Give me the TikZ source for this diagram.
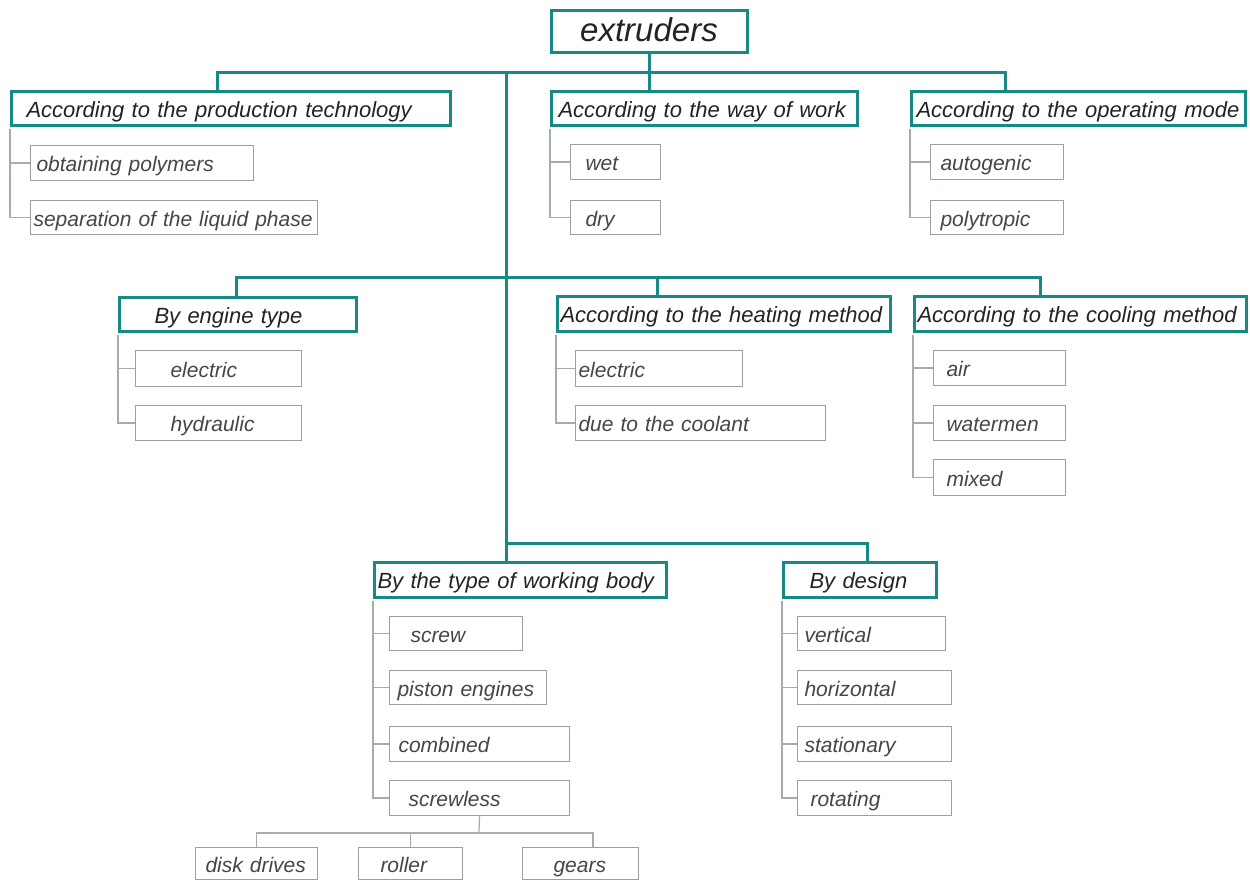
\documentclass[tikz,border=0pt]{standalone}
\usepackage{fontspec}
\setmainfont{Liberation Sans}
\definecolor{teal1}{RGB}{24,138,132}
\definecolor{leafgray}{RGB}{150,160,165}
\definecolor{linegray}{RGB}{165,172,176}
\definecolor{txthead}{RGB}{35,35,35}
\definecolor{txtleaf}{RGB}{70,70,70}
\newcommand{\vfix}{\rule[-5.5pt]{0pt}{28.5pt}}
\newcommand{\bx}[8]{%
  \pgfmathsetmacro{\bxw}{#4-#2}\pgfmathsetmacro{\bxh}{#5-#3}%
  \node[#6, anchor=north west, minimum height=\bxh pt, text width=\bxw pt,
        inner xsep=0pt, inner ysep=0pt, align=left] (#1) at (#2,#3)
        {\hspace*{#7pt}\mbox{\vfix#8}};}
\tikzset{
  headbox/.style={draw=teal1, line width=3pt, fill=white, text=txthead,
     font=\fontsize{22}{24}\selectfont\itshape},
  leafbox/.style={draw=leafgray, line width=1pt, fill=white, text=txtleaf,
     font=\fontsize{21}{23}\selectfont\itshape},
  rootbox/.style={draw=teal1, line width=3pt, fill=white, text=txthead,
     font=\fontsize{33}{36}\selectfont\itshape, inner sep=0pt},
  mainline/.style={draw=teal1, line width=3pt},
  leafline/.style={draw=linegray, line width=1.2pt},
}
\begin{document}
\begin{tikzpicture}[x=1pt,y=-1pt]
\useasboundingbox (0,0) rectangle (1250,881);
% root
\node[rootbox, minimum width=196pt, minimum height=42pt] (root) at (649,31)
  {\rule[-7pt]{0pt}{35pt}extruders};
% level 1
\bx{prod}{10}{90}{449}{124}{headbox}{15}{According to the production technology}
\bx{way}{550}{90}{856}{124}{headbox}{7}{According to the way of work}
\bx{op}{910}{90}{1244}{124}{headbox}{5}{According to the operating mode}
\bx{p1}{30}{145}{253}{180}{leafbox}{6}{obtaining polymers}
\bx{p2}{30}{200}{317}{234}{leafbox}{3}{separation of the liquid phase}
\bx{w1}{570}{144}{660}{179}{leafbox}{15}{wet}
\bx{w2}{570}{200}{660}{234}{leafbox}{15}{dry}
\bx{o1}{930}{144}{1063}{179}{leafbox}{10}{autogenic}
\bx{o2}{930}{200}{1063}{234}{leafbox}{10}{polytropic}
% level 2
\bx{eng}{118}{296}{355}{330}{headbox}{35}{By engine type}
\bx{e1}{135}{350}{301}{386}{leafbox}{35}{electric}
\bx{e2}{135}{405}{301}{440}{leafbox}{35}{hydraulic}
\bx{heat}{556}{295}{889}{330}{headbox}{3}{According to the heating method}
\bx{h1}{575}{350}{742}{386}{leafbox}{3}{electric}
\bx{h2}{575}{405}{825}{440}{leafbox}{3}{due to the coolant}
\bx{cool}{913}{295}{1245}{330}{headbox}{3}{According to the cooling method}
\bx{c1}{933}{350}{1065}{385}{leafbox}{13}{air}
\bx{c2}{933}{405}{1065}{440}{leafbox}{13}{watermen}
\bx{c3}{933}{459}{1065}{495}{leafbox}{13}{mixed}
% level 3
\bx{work}{373}{561}{665}{596}{headbox}{3}{By the type of working body}
\bx{des}{782}{561}{935}{596}{headbox}{26}{By design}
\bx{k1}{389}{616}{522}{650}{leafbox}{21}{screw}
\bx{k2}{389}{670}{546}{704}{leafbox}{8}{piston engines}
\bx{k3}{389}{726}{569}{761}{leafbox}{9}{combined}
\bx{k4}{389}{780}{569}{815}{leafbox}{19}{screwless}
\bx{d1}{797}{616}{945}{650}{leafbox}{7}{vertical}
\bx{d2}{797}{670}{951}{704}{leafbox}{7}{horizontal}
\bx{d3}{797}{726}{951}{761}{leafbox}{7}{stationary}
\bx{d4}{797}{780}{951}{815}{leafbox}{13}{rotating}
\bx{s1}{195}{847}{317}{879}{leafbox}{10}{disk drives}
\bx{s2}{358}{847}{462}{879}{leafbox}{22}{roller}
\bx{s3}{522}{847}{638}{879}{leafbox}{31}{gears}
% junction coordinates
\coordinate (j1) at (217,72);
\coordinate (j3) at (1005,72);
\coordinate (t1) at (506,72);
\coordinate (j4) at (236,277);
\coordinate (j5) at (1040,277);
\coordinate (j6) at (657,277);
\coordinate (j7) at (506,543);
\coordinate (j8) at (867,543);
\coordinate (sj) at (479,833);
\coordinate (g3) at (593,833);
% main connectors
\draw[mainline] (prod.north -| j1) -- (j1) -- (j3) -- (op.north -| j3);
\draw[mainline] (root.south) -- (way.north -| root.south);
\draw[mainline] (t1) -- (work.north -| t1);
\draw[mainline] (eng.north -| j4) -- (j4) -- (j5) -- (cool.north -| j5);
\draw[mainline] (j6) -- (heat.north -| j6);
\draw[mainline] (j7) -- (j8) -- (des.north -| j8);
% leaf connectors
\foreach \p/\c in {prod/p1,prod/p2,way/w1,way/w2,op/o1,op/o2,
                   eng/e1,eng/e2,heat/h1,heat/h2,cool/c1,cool/c2,cool/c3,
                   work/k1,work/k2,work/k3,work/k4,des/d1,des/d2,des/d3,des/d4}
  \draw[leafline] ([yshift=-1.5pt]\p.south west) |- (\c.west);
\draw[leafline] (k4.south) -- (sj);
\draw[leafline] (s1.north) |- (sj) -- (g3) -- (s3.north -| g3);
\draw[leafline] (s2.north) -- (s2.north |- sj);
\end{tikzpicture}
\end{document}
